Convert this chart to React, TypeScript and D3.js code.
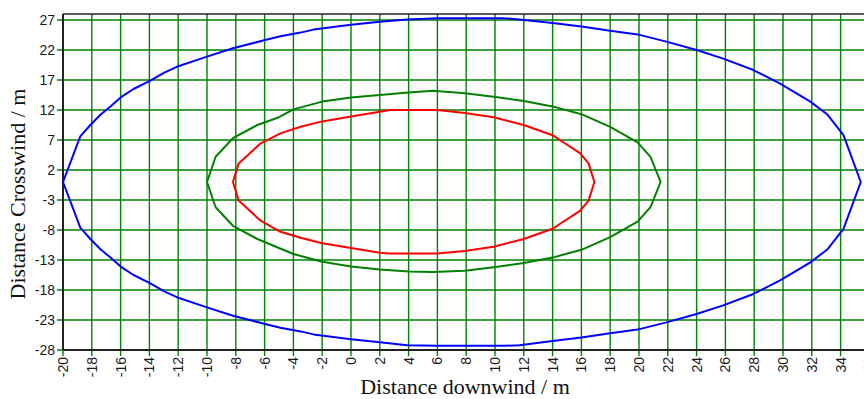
import React, { useEffect, useRef } from 'react';
import * as d3 from 'd3';

type Pt = [number, number];

// contour outlines (downwind m, crosswind m)
const blueContour: Pt[] = [
  [-20, 0], [-18.8, 7.6], [-18.1, 9.5], [-17.4, 11.2], [-16.7, 12.6], [-16, 14.1], [-15.1, 15.5],
  [-14, 16.8], [-13, 18.2], [-12.1, 19.2], [-10, 20.9], [-8.2, 22.3], [-5.9, 23.7], [-4.9, 24.3],
  [-3.5, 24.9], [-2.6, 25.4], [0, 26.2], [2, 26.7], [3.9, 27.1], [6, 27.3], [10.6, 27.3],
  [11.7, 27.1], [14, 26.5], [16, 25.9], [18, 25.2], [19.9, 24.6], [21.9, 23.4], [24, 22.0],
  [25.8, 20.6], [27.9, 18.7], [29.8, 16.4], [31.9, 13.4], [33.1, 11.2], [34.2, 7.8], [35.4, 0],
  [34.2, -7.8], [33.1, -11.2], [31.9, -13.4], [29.8, -16.4], [27.9, -18.7], [25.8, -20.6],
  [24, -22.0], [21.9, -23.4], [19.9, -24.6], [18, -25.2], [16, -25.9], [14, -26.5], [11.7, -27.2],
  [10.6, -27.3], [6, -27.3], [3.9, -27.2], [2, -26.7], [0, -26.2], [-2.6, -25.4], [-3.5, -24.9],
  [-4.9, -24.3], [-5.9, -23.7], [-8.2, -22.3], [-10, -20.9], [-12.1, -19.2], [-13, -18.2],
  [-14, -16.8], [-15.1, -15.5], [-16, -14.1], [-16.7, -12.6], [-17.4, -11.2], [-18.1, -9.5],
  [-18.8, -7.6], [-20, 0],
];

const greenContour: Pt[] = [
  [-10, 0], [-9.4, 4.2], [-8.2, 7.3], [-6.5, 9.5], [-5, 10.8], [-4, 12.1], [-2, 13.4], [0, 14.1],
  [2, 14.5], [4, 14.9], [5.7, 15.2], [7.9, 14.8], [9.9, 14.2], [12, 13.5], [14, 12.6], [16, 11.3],
  [18, 9.2], [19.9, 6.6], [20.8, 4.2], [21.5, 0],
  [20.8, -4.2], [19.9, -6.6], [18, -9.2], [16, -11.3], [14, -12.6], [12, -13.5], [9.9, -14.2],
  [7.9, -14.8], [5.7, -15.0], [4, -14.9], [2, -14.6], [0, -14.1], [-2, -13.3], [-4, -12.0],
  [-5, -11.0], [-6.5, -9.5], [-8.2, -7.3], [-9.4, -4.2], [-10, 0],
];

const redContour: Pt[] = [
  [-8.2, 0], [-7.8, 3.1], [-6.3, 6.4], [-4.9, 8.1], [-3.5, 9.2], [-2, 10.1], [0, 10.9], [2, 11.7],
  [2.7, 12], [6, 12], [7.9, 11.5], [9.9, 10.8], [12, 9.5], [14, 7.8], [14.5, 7.0], [15.9, 4.8],
  [16.5, 3.1], [16.9, 0],
  [16.5, -3.1], [15.9, -4.8], [14.5, -7.0], [14, -7.8], [12, -9.5], [9.9, -10.8], [7.9, -11.5],
  [6, -11.9], [2.7, -11.9], [2, -11.8], [0, -11.0], [-2, -10.2], [-3.5, -9.3], [-4.9, -8.3],
  [-6.3, -6.4], [-7.8, -3.1], [-8.2, 0],
];

const xTicks = d3.range(-20, 37, 2);
const yTicks = [-28, -23, -18, -13, -8, -3, 2, 7, 12, 17, 22, 27];

const series = [
  { name: 'outer', color: '#0000ff', points: blueContour },
  { name: 'middle', color: '#008000', points: greenContour },
  { name: 'inner', color: '#ff0000', points: redContour },
];

const W = 864;
const H = 399;
const SERIF = '"Liberation Serif", "Times New Roman", serif';
const SANS = '"Liberation Sans", Arial, sans-serif';

const App: React.FC = () => {
  const ref = useRef<SVGSVGElement>(null);

  useEffect(() => {
    const x = d3.scaleLinear().domain([-20, 36]).range([63, 869.4]);
    const y = d3.scaleLinear().domain([-28, 28]).range([350, 14]);

    const svg = d3.select(ref.current);
    svg.selectAll('*').remove();
    const g = svg.append('g');

    // grid (lines run a few px past the axes as ticks)
    g.selectAll('line.vgrid')
      .data(xTicks)
      .enter()
      .append('line')
      .attr('x1', (d) => x(d))
      .attr('x2', (d) => x(d))
      .attr('y1', y(28))
      .attr('y2', y(-28) + 6)
      .attr('stroke', '#008000')
      .attr('stroke-width', 1.4);

    g.selectAll('line.hgrid')
      .data(yTicks)
      .enter()
      .append('line')
      .attr('x1', x(-20) - 6)
      .attr('x2', W)
      .attr('y1', (d) => y(d))
      .attr('y2', (d) => y(d))
      .attr('stroke', '#008000')
      .attr('stroke-width', 1.4);

    // frame
    g.append('line')
      .attr('x1', x(-20)).attr('x2', W)
      .attr('y1', y(28)).attr('y2', y(28))
      .attr('stroke', '#222').attr('stroke-width', 1.5);
    g.append('line')
      .attr('x1', x(-20)).attr('x2', W)
      .attr('y1', y(-28)).attr('y2', y(-28))
      .attr('stroke', '#222').attr('stroke-width', 2);
    g.append('line')
      .attr('x1', x(-20)).attr('x2', x(-20))
      .attr('y1', y(28)).attr('y2', y(-28))
      .attr('stroke', '#222').attr('stroke-width', 2);

    // contours
    const line = d3
      .line<Pt>()
      .x((d) => x(d[0]))
      .y((d) => y(d[1]));

    series.forEach((s) => {
      g.append('path')
        .attr('d', line(s.points))
        .attr('fill', 'none')
        .attr('stroke', s.color)
        .attr('stroke-width', 2)
        .attr('stroke-linejoin', 'round');
    });

    // tick labels
    g.selectAll('text.ylab')
      .data(yTicks)
      .enter()
      .append('text')
      .attr('x', x(-20) - 8)
      .attr('y', (d) => y(d))
      .attr('dy', '0.36em')
      .attr('text-anchor', 'end')
      .attr('font-family', SANS)
      .attr('font-size', 14)
      .attr('fill', '#1a1a1a')
      .text((d) => d);

    g.selectAll('text.xlab')
      .data(xTicks)
      .enter()
      .append('text')
      .attr('transform', (d) => `translate(${x(d)},${y(-28) + 7}) rotate(-90)`)
      .attr('dy', '0.36em')
      .attr('text-anchor', 'end')
      .attr('font-family', SANS)
      .attr('font-size', 14)
      .attr('fill', '#1a1a1a')
      .text((d) => d);

    // axis titles
    g.append('text')
      .attr('x', 465)
      .attr('y', 394)
      .attr('text-anchor', 'middle')
      .attr('font-family', SERIF)
      .attr('font-size', 22)
      .attr('fill', '#111')
      .text('Distance downwind / m');

    g.append('text')
      .attr('transform', `translate(25,194) rotate(-90)`)
      .attr('text-anchor', 'middle')
      .attr('font-family', SERIF)
      .attr('font-size', 22)
      .attr('fill', '#111')
      .text('Distance Crosswind / m');

    return () => {
      svg.selectAll('*').remove();
    };
  }, []);

  return (
    <svg
      ref={ref}
      width={W}
      height={H}
      style={{ position: 'absolute', left: 0, top: 0, background: '#fff' }}
    />
  );
};

export default App;
